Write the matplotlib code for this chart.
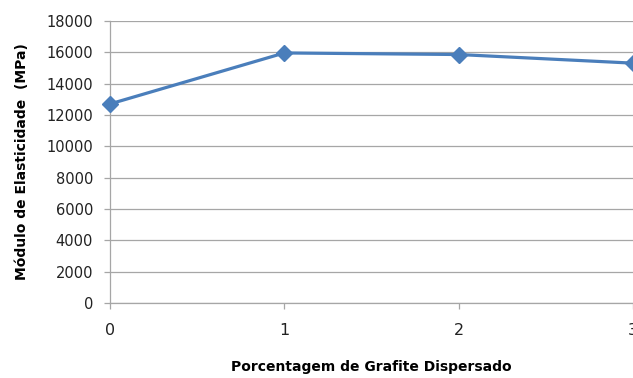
import matplotlib
matplotlib.use("Agg")
import matplotlib.pyplot as plt

#-- Data
graphite_pct = [0, 1, 2, 3]
modulus_mpa = [12700, 15950, 15850, 15300]
y_ticks = list(range(0, 18001, 2000))

fig = plt.figure(figsize=(6.33, 3.78), dpi=100)
ax = fig.add_axes([0.1738, 0.198, 0.826, 0.747])

ax.plot(graphite_pct, modulus_mpa, color="#4a7ebb", linewidth=2.3,
        marker="D", markersize=8, clip_on=False, zorder=3)

ax.set_xlim(0, 3)
ax.set_ylim(0, 18000)
ax.set_yticks(y_ticks)
ax.set_xticks(graphite_pct)

#-- Excel-like styling: horizontal grid only, grey axes
ax.grid(axis="y", color="#a6a6a6", linewidth=0.9)
ax.set_axisbelow(True)
for side in ["top", "right"]:
    ax.spines[side].set_visible(False)
for side in ["left", "bottom"]:
    ax.spines[side].set_color("#a6a6a6")
    ax.spines[side].set_linewidth(0.9)

ax.tick_params(axis="y", colors="#a6a6a6", labelcolor="#222222", length=4.2,
               width=0.9, pad=8, labelsize=10.5)
ax.tick_params(axis="x", colors="#a6a6a6", labelcolor="#222222", length=4.2,
               width=0.9, pad=10, labelsize=11.5)

ax.set_ylabel("Módulo de Elasticidade  (MPa)", fontweight="bold", fontsize=10)
ax.set_xlabel("Porcentagem de Grafite Dispersado", fontweight="bold", fontsize=10)
ax.yaxis.set_label_coords(-0.155, 0.5)
ax.xaxis.set_label_coords(0.5, -0.2)

fig.savefig("out.png", dpi=100)
